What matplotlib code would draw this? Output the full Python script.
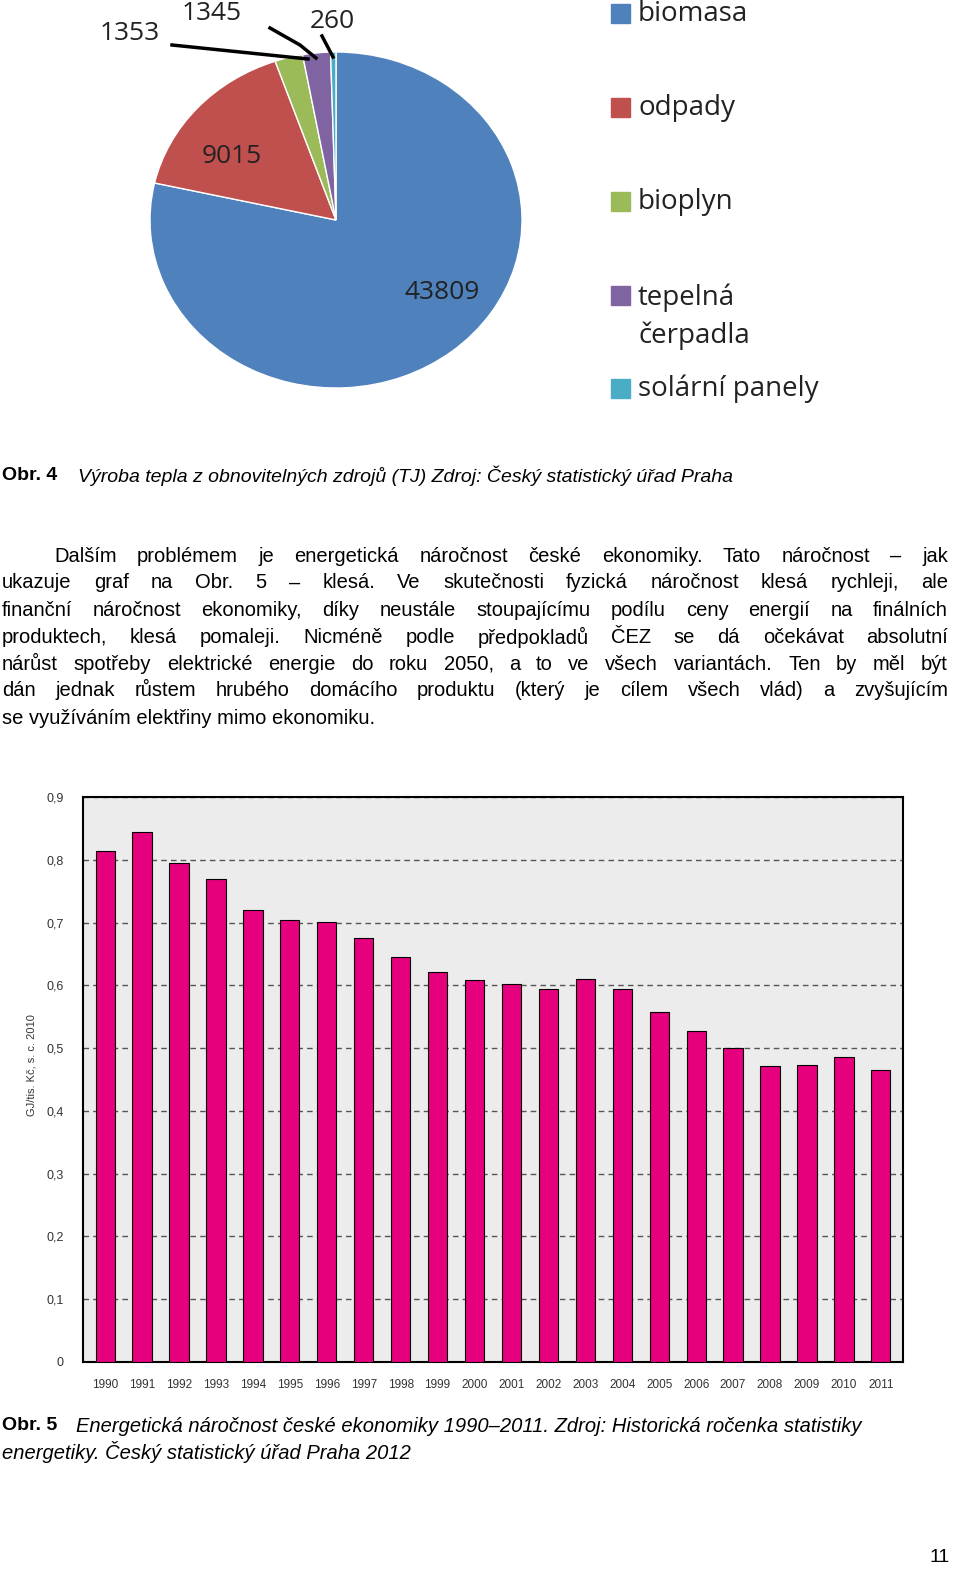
import matplotlib
matplotlib.use("Agg")
import matplotlib.pyplot as plt

W, H = 960, 1582
pie_labels = ["biomasa", "odpady", "bioplyn", "tepelná\nčerpadla", "solární panely"]
pie_values = [43809, 9015, 1353, 1345, 260]
pie_colors = ["#4f81bd", "#c0504d", "#9bbb59", "#8064a2", "#4bacc6"]

years = [str(y) for y in range(1990, 2012)]
intensity = [0.814, 0.844, 0.795, 0.769, 0.720, 0.704, 0.701, 0.675, 0.645, 0.621, 0.608,
             0.602, 0.594, 0.610, 0.594, 0.557, 0.527, 0.500, 0.471, 0.473, 0.486, 0.465]
yticks = [0, 0.1, 0.2, 0.3, 0.4, 0.5, 0.6, 0.7, 0.8, 0.9]
ytick_labels = ["0", "0,1", "0,2", "0,3", "0,4", "0,5", "0,6", "0,7", "0,8", "0,9"]

fig = plt.figure(figsize=(W/100, H/100), dpi=100)
renderer = fig.canvas.get_renderer()

def ax_px(x, y, w, h):
    return fig.add_axes([x/W, 1-(y+h)/H, w/W, h/H])

def txt(x, y, s, **kw):
    kw.setdefault("family", "Liberation Sans")
    kw.setdefault("fontsize", 14)
    kw.setdefault("va", "center")
    return fig.text(x/W, 1-y/H, s, **kw)

def justify(x0, x1, y, s, fs):
    words = s.split(" ")
    arts = [txt(0, y, w, fontsize=fs) for w in words]
    widths = [a.get_window_extent(renderer).width for a in arts]
    gap = (x1 - x0 - sum(widths)) / (len(words) - 1)
    x = x0
    for a, w in zip(arts, widths):
        a.set_x(x / W)
        x += w + gap

# Pie
pax = ax_px(150, 52, 372, 336)
pax.pie(pie_values, colors=pie_colors, startangle=90, counterclock=False,
        wedgeprops=dict(edgecolor="white", linewidth=1))
pax.set_aspect("auto")
pax.set_xlim(-1, 1); pax.set_ylim(-1, 1)
pf = dict(family="Open Sans", fontsize=19, va="center", ha="center", color="#222222")
pax.text(0.57, -0.43, "43809", **pf)
pax.text(-0.56, 0.38, "9015", **pf)
fig.text(130/W, 1-34/H, "1353", **pf)
fig.text(212/W, 1-13/H, "1345", **pf)
fig.text(332/W, 1-21/H, "260", **pf)
fig.add_artist(plt.Line2D([172/W, 308/W], [1-45/H, 1-59/H], color="black", lw=2.5))
fig.add_artist(plt.Line2D([270/W, 300/W, 316/W], [1-28/H, 1-45/H, 1-58/H], color="black", lw=2.5))
fig.add_artist(plt.Line2D([322/W, 333/W], [1-36/H, 1-57/H], color="black", lw=2.5))

leg_y = [14, 108, 202, 296, 389]
for yy, lab, c in zip(leg_y, pie_labels, pie_colors):
    fig.patches.append(plt.Rectangle((611/W, 1-(yy+9)/H), 19/W, 19/H, transform=fig.transFigure,
                                     color=c))
    fig.text(638/W, 1-(yy - (13 if "\n" in lab else 0))/H, lab, family="Open Sans", fontsize=20,
             va="top" if "\n" in lab else "center", color="#222222", linespacing=1.45)

fig.text(2/W, 1-476/H, "Obr. 4", family="Liberation Sans", fontsize=14, weight="bold", va="center")
txt(78, 476, "Výroba tepla z obnovitelných zdrojů (TJ) Zdroj: Český statistický úřad Praha", style="italic")
lines = [
    (54, 556, "Dalším problémem je energetická náročnost české ekonomiky. Tato náročnost – jak"),
    (2, 583, "ukazuje graf na Obr. 5 – klesá. Ve skutečnosti fyzická náročnost klesá rychleji, ale"),
    (2, 610, "finanční náročnost ekonomiky, díky neustále stoupajícímu podílu ceny energií na finálních"),
    (2, 637, "produktech, klesá pomaleji. Nicméně podle předpokladů ČEZ se dá očekávat absolutní"),
    (2, 664, "nárůst spotřeby elektrické energie do roku 2050, a to ve všech variantách. Ten by měl být"),
    (2, 691, "dán jednak růstem hrubého domácího produktu (který je cílem všech vlád) a zvyšujícím"),
]
for x, y, s in lines:
    justify(x, 948, y, s, 14.5)
txt(2, 718, "se využíváním elektřiny mimo ekonomiku.", fontsize=14.5)

bax = ax_px(83, 797, 820, 565)
bax.set_facecolor("#ececec")
x = range(len(years))
bax.bar(x, intensity, width=0.52, color="#e6007e", edgecolor="black", linewidth=0.8, zorder=3)
bax.set_ylim(0, 0.9)
bax.set_xlim(-0.6, len(years)-0.4)
bax.set_yticks(yticks)
bax.set_yticklabels(ytick_labels, family="Liberation Sans", fontsize=9, color="#333333")
bax.set_xticks(list(x))
bax.set_xticklabels(years, family="Liberation Sans", fontsize=8.5, color="#333333")
bax.tick_params(length=0, pad=12)
bax.tick_params(axis="y", pad=14)
bax.grid(axis="y", linestyle=(0, (4, 3)), color="#555555", linewidth=1, zorder=1)
for s in bax.spines.values():
    s.set_linewidth(1.5)
fig.text(32/W, 1-1065/H, "GJ/tis. Kč, s. c. 2010", rotation=90, family="Liberation Sans",
         fontsize=8, va="center", ha="center", color="#333333")

fig.text(2/W, 1-1426/H, "Obr. 5", family="Liberation Sans", fontsize=14, weight="bold", va="center")
txt(76, 1426, "Energetická náročnost české ekonomiky 1990–2011. Zdroj: Historická ročenka statistiky",
    style="italic", fontsize=14.5)
txt(2, 1452, "energetiky. Český statistický úřad Praha 2012", style="italic", fontsize=14.5)
txt(940, 1558, "11", ha="center")

fig.savefig("out.png", dpi=100, facecolor="white")
